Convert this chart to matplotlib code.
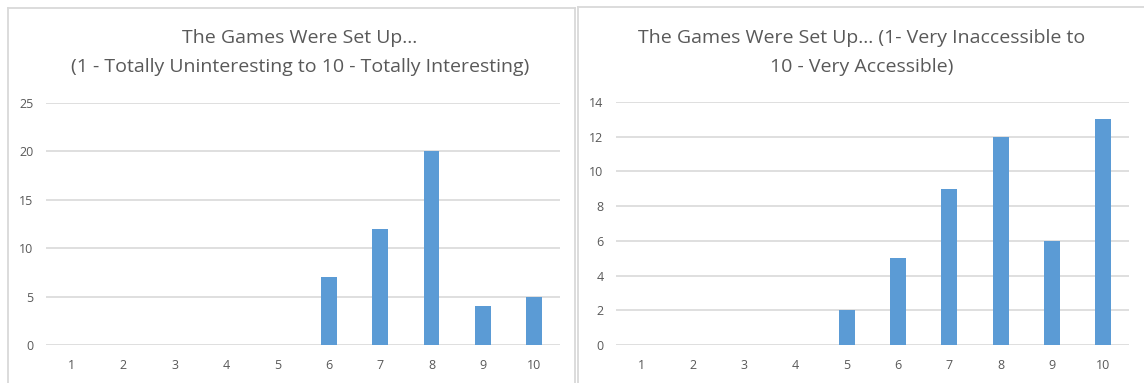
import matplotlib.pyplot as plt
from matplotlib.lines import Line2D

categories = [1, 2, 3, 4, 5, 6, 7, 8, 9, 10]
interesting = [0, 0, 0, 0, 0, 7, 12, 20, 4, 5]
accessible = [0, 0, 0, 0, 2, 5, 9, 12, 6, 13]

title_left = "The Games Were Set Up...\n(1 - Totally Uninteresting to 10 - Totally Interesting)"
title_right = "The Games Were Set Up... (1- Very Inaccessible to\n10 - Very Accessible)"

plt.rcParams['font.family'] = ['Open Sans', 'DejaVu Sans']
bar_color = '#5b9bd5'
grid_color = '#d9d9d9'
text_color = '#595959'

W, H = 1144, 383
fig = plt.figure(figsize=(W / 100, H / 100), dpi=100)


def fx(px):
    return px / W


def fy(py):
    return 1 - py / H


# panel borders
for x0, x1, ytop in [(8, 575, 8), (578, 1150, 7)]:
    fig.add_artist(Line2D([fx(x0), fx(x0)], [fy(ytop), 0], color=grid_color, lw=1.3))
    fig.add_artist(Line2D([fx(x0), fx(x1)], [fy(ytop), fy(ytop)], color=grid_color, lw=1.3))
    if x1 < W:
        fig.add_artist(Line2D([fx(x1), fx(x1)], [fy(ytop), 0], color=grid_color, lw=1.3))


def draw(ax, values, ymax, step, title, cx):
    ax.bar(categories, values, width=0.31, color=bar_color, zorder=3)
    ax.set_xlim(0.5, 10.5)
    ax.set_ylim(0, ymax)
    ax.set_yticks(range(0, ymax + 1, step))
    ax.set_xticks(categories)
    ax.yaxis.grid(True, color=grid_color, lw=1.2, zorder=0)
    for s in ax.spines.values():
        s.set_visible(False)
    ax.tick_params(length=0, labelsize=9, colors=text_color)
    ax.tick_params(axis='y', pad=9)
    ax.tick_params(axis='x', pad=10)
    fig.text(fx(cx), fy(52.5), title, ha='center', va='center', fontsize=14,
             color=text_color, linespacing=1.75)


ax1 = fig.add_axes([fx(46), fy(345), fx(560 - 46), fy(103) - fy(345)])
draw(ax1, interesting, 25, 5, title_left, 300)

ax2 = fig.add_axes([fx(616), fy(345), fx(1129 - 616), fy(102) - fy(345)])
draw(ax2, accessible, 14, 2, title_right, 862)

fig.savefig('out.png', dpi=100)
